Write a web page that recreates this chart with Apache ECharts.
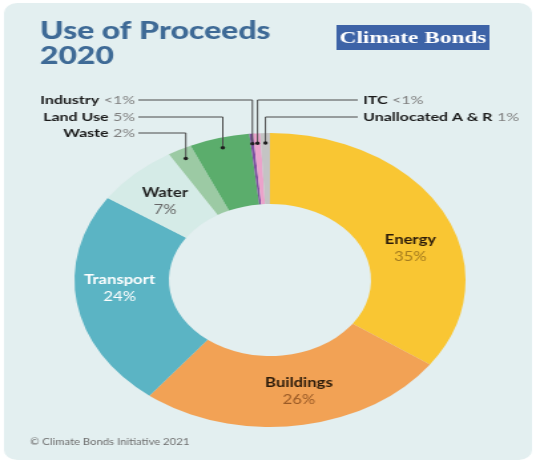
<!DOCTYPE html>
<html>
<head>
<meta charset="utf-8">
<script src="https://cdn.jsdelivr.net/npm/echarts@6/dist/echarts.min.js"></script>
<style>
  html, body { margin: 0; padding: 0; background: #ffffff; overflow: hidden; }
  #wrap { width: 536px; height: 465px; position: relative; overflow: hidden; }
  #chart { position: absolute; left: 0; top: 0; height: 465px; transform-origin: 0 0; }
</style>
</head>
<body>
<div id="wrap"><div id="chart"></div></div>
<script>
// ---- data ----
const categories = ['Energy', 'Buildings', 'Transport', 'Water', 'Waste', 'Land Use', 'Industry', 'ITC', 'Unallocated A & R'];
const values = [35, 26, 24, 7, 2, 5, 0.3, 0.6, 0.8];
const pctLabels = ['35%', '26%', '24%', '7%', '2%', '5%', '<1%', '<1%', '1%'];
const titleText = 'Use of Proceeds\n2020';
const logoText = 'Climate Bonds';
const footerText = '\u00A9 Climate Bonds Initiative 2021';

// ---- styles / layout ----
const colors = ['#F9C633', '#F2A255', '#5BB4C4', '#D5EBE7', '#9CCAA4', '#5BAD6C', '#7E4FA0', '#EBA3CB', '#C4C4C4'];
const SX = 1.33;                 // the reference image is stretched horizontally
const W0 = 536 / SX;
const CX = 270 / SX, CY = 280, R0 = 76, R1 = 147;
const insideStyle = [
  { n: '#2a1a0a', v: '#A57C1E', dx: 4, dy: 21 },
  { n: '#2a1a0a', v: '#9A5A26', dx: 5, dy: -2 },
  { n: '#ffffff', v: '#ffffff', dx: 0, dy: -9 },
  { n: '#1e1e1e', v: '#666666', dx: 0, dy: 4 }
];
const leaders = {
  4: { side: 'left', y: 133 },
  5: { side: 'left', y: 117 },
  6: { side: 'left', y: 100 },
  7: { side: 'right', y: 100 },
  8: { side: 'right', y: 117 }
};
const LEFT_LINE_END = 104, LEFT_LABEL_X = 101.5, RIGHT_LINE_END = 269, RIGHT_LABEL_X = 273;
const DOT_R = 137;

const el = document.getElementById('chart');
el.style.width = W0 + 'px';
el.style.transform = 'scaleX(' + SX + ')';
const chart = echarts.init(el, null, { renderer: 'canvas', width: W0, height: 465 });

// angles of slice mid-points (clockwise from 12 o'clock)
const total = values.reduce((a, b) => a + b, 0);
let acc = 0;
const mids = values.map(v => { const m = (acc + v / 2) / total * Math.PI * 2; acc += v; return m; });

const graphics = [
  { type: 'rect', z: -10, shape: { x: 3, y: 3, width: 397, height: 457, r: 10 }, style: { fill: '#E3EFF0' } },
  { type: 'rect', shape: { x: 253, y: 25, width: 115, height: 25 }, style: { fill: '#3D63A7' } },
  { type: 'text', x: 310.5, y: 38, style: { text: logoText, fill: '#ffffff', font: 'bold 17.5px "Liberation Serif", "DejaVu Serif", serif', textAlign: 'center', textVerticalAlign: 'middle' } },
  { type: 'text', x: 22.5, y: 442, style: { text: footerText, fill: '#6e6e6e', font: '8.5px Lato, "Open Sans", sans-serif', textAlign: 'left', textVerticalAlign: 'middle' } }
];
Object.keys(leaders).forEach(k => {
  const i = +k, L = leaders[k];
  const dx = CX + DOT_R * Math.sin(mids[i]);
  const dy = CY - DOT_R * Math.cos(mids[i]);
  const endX = L.side === 'left' ? LEFT_LINE_END : RIGHT_LINE_END;
  graphics.push({ type: 'polyline', z: 20, shape: { points: [[dx, dy], [dx, L.y], [endX, L.y]] }, style: { stroke: '#4a4a4a', lineWidth: 1, fill: null } });
  graphics.push({ type: 'circle', z: 21, shape: { cx: dx, cy: dy, r: 1.7 }, style: { fill: '#1e1e1e' } });
});

const data = categories.map((name, i) => {
  const item = { name: name, value: values[i], itemStyle: { color: colors[i] } };
  if (i < 4) {
    const s = insideStyle[i];
    item.label = {
      show: true, position: 'inside',
      formatter: '{n|' + name + '}\n{v|' + pctLabels[i] + '}',
      rich: {
        n: { fontFamily: 'Lato', fontWeight: 'bold', fontSize: 12.5, color: s.n, lineHeight: 17, align: 'center' },
        v: { fontFamily: 'Lato', fontSize: 12.5, color: s.v, lineHeight: 17, align: 'center' }
      }
    };
  } else {
    item.label = {
      show: true, position: 'outside',
      formatter: '{n|' + name + '} {v|' + pctLabels[i] + '}',
      rich: {
        n: { fontFamily: 'Lato', fontWeight: 'bold', fontSize: 12, color: '#1a1a1a' },
        v: { fontFamily: 'Lato', fontSize: 12, color: '#808080' }
      }
    };
    item.labelLine = { show: false };
  }
  return item;
});

chart.setOption({
  animation: false,
  title: {
    text: titleText, left: 30, top: 19, padding: 0,
    textStyle: { fontFamily: 'Lato', fontWeight: 900, fontSize: 24, lineHeight: 25, color: '#3E6A96' }
  },
  graphic: graphics,
  series: [{
    type: 'pie',
    center: [CX, CY],
    radius: [R0, R1],
    startAngle: 90,
    clockwise: true,
    avoidLabelOverlap: false,
    label: { show: true },
    labelLine: { show: false },
    emphasis: { disabled: true },
    itemStyle: { borderWidth: 0 },
    data: data,
    labelLayout: function (p) {
      const i = p.dataIndex;
      if (leaders[i]) {
        const L = leaders[i];
        return L.side === 'left'
          ? { x: LEFT_LABEL_X, y: L.y, align: 'right', verticalAlign: 'middle' }
          : { x: RIGHT_LABEL_X, y: L.y, align: 'left', verticalAlign: 'middle' };
      }
      const s = insideStyle[i];
      return { dx: s.dx, dy: s.dy };
    }
  }]
});
</script>
</body>
</html>
